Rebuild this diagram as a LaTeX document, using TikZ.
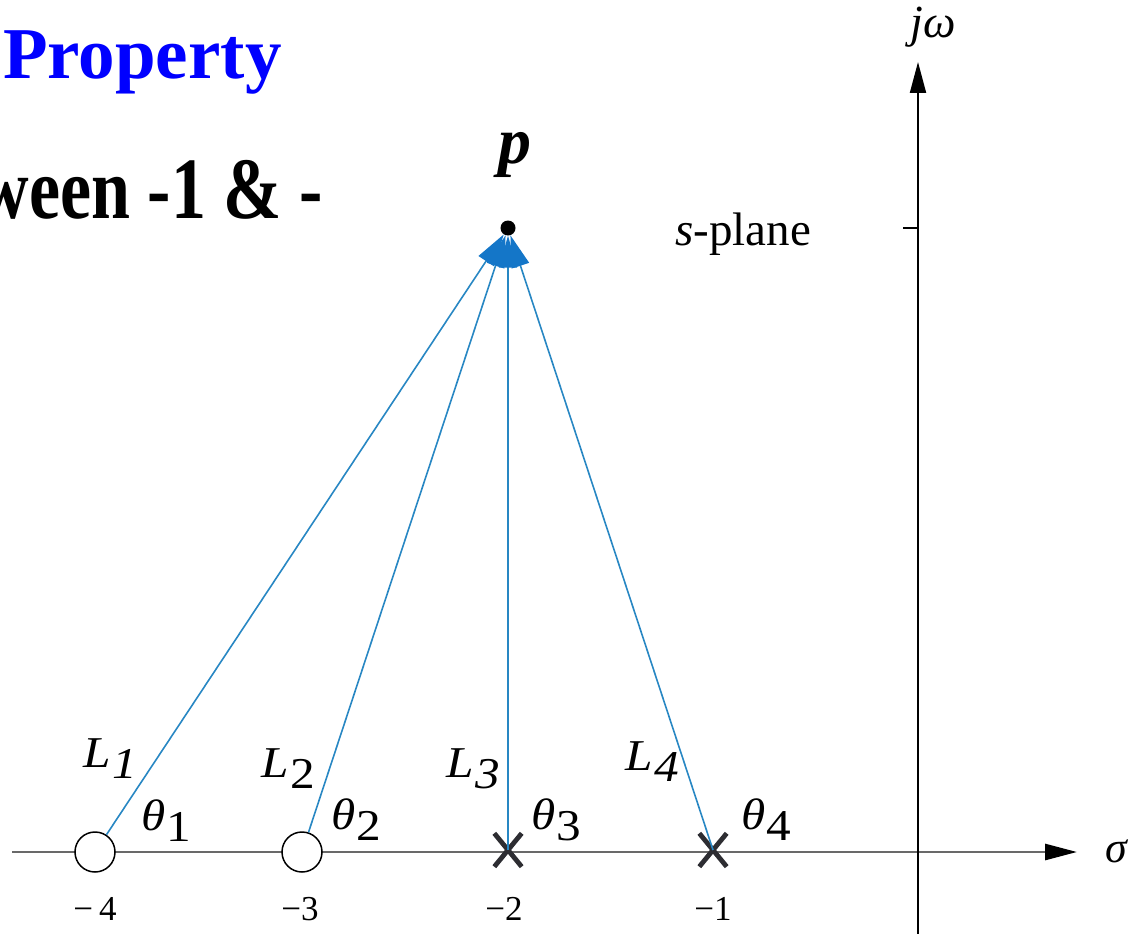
\documentclass[tikz,border=0pt]{standalone}
\usepackage{fontspec}
\setmainfont{Liberation Serif}
\usetikzlibrary{arrows.meta}
\definecolor{lineblue}{RGB}{40,135,195}
\definecolor{headblue}{RGB}{20,118,200}
\definecolor{axisgray}{RGB}{105,105,105}
\definecolor{crossgray}{RGB}{45,45,50}
\newcommand{\lsub}[2]{\scalebox{1.12}[1]{#1\kern0.03em\raisebox{-0.25em}{#2}}}
\begin{document}
\begin{tikzpicture}[x=1pt,y=-1pt,
  lbl/.style={inner sep=0, anchor=base west, font=\fontsize{44}{48}\selectfont},
  tick/.style={inner sep=0, anchor=base, font=\fontsize{35}{38}\selectfont},
  zero/.style={circle, draw=black, line width=1.5pt, fill=white, minimum size=40pt, inner sep=0},
  pole/.style={rectangle, minimum width=27pt, minimum height=33pt, inner sep=0},
  crossline/.style={draw=crossgray, line width=4.8pt},
  ray/.style={draw=lineblue, line width=1.6pt, -{Triangle[length=32pt,width=18pt,color=headblue,fill=headblue]}},
  saxis/.style={draw=axisgray, line width=2.8pt, -{Triangle[length=32pt,width=16pt,color=black,fill=black]}},
  jaxis/.style={draw=black, line width=2pt, -{Triangle[length=31pt,width=16pt,color=black,fill=black]}}]
\useasboundingbox (0,0) rectangle (1141,934);
\clip (0,0) rectangle (1141,934);
% axes
\coordinate (sl) at (12,852);
\coordinate (sr) at (1077,852);
\coordinate (jb) at (918,940);
\coordinate (jt) at (918,62);
\coordinate (tk) at (903,228);
\coordinate (tk0) at (918,228);
\draw[saxis] (sl) -- (sr);
\draw[jaxis] (jb) -- (jt);
\draw[draw=black, line width=1.8pt] (tk) -- (tk0);
% point p
\node[circle, fill=black, minimum size=15pt, inner sep=0] (p) at (508,228) {};
% zeros and poles
\node[zero] (z1) at (95,852) {};
\node[zero] (z2) at (302,852) {};
\node[pole] (x1) at (508,850) {};
\node[pole] (x2) at (713,850) {};
\draw[crossline] (x1.north west) -- (x1.south east) (x1.north east) -- (x1.south west);
\draw[crossline] (x2.north west) -- (x2.south east) (x2.north east) -- (x2.south west);
% rays
\draw[ray] (z1) -- (p);
\draw[ray] (z2) -- (p);
\draw[ray] (x1.center) -- (p);
\draw[ray] (x2.center) -- (p);
% labels
\node[lbl] (l1) at (83,767) {\lsub{\textit{L}}{\textit{1}}};
\node[lbl] (l2) at (261,777) {\lsub{\textit{L}}{2}};
\node[lbl] (l3) at (446,777) {\lsub{\textit{L}}{\textit{3}}};
\node[lbl] (l4) at (625,770) {\lsub{\textit{L}}{\textit{4}}};
\node[lbl] (t1) at (141,830) {\lsub{\textit{θ}}{1}};
\node[lbl] (t2) at (331,829) {\lsub{\textit{θ}}{2}};
\node[lbl] (t3) at (531,829) {\lsub{\textit{θ}}{3}};
\node[lbl] (t4) at (741,829) {\lsub{\textit{θ}}{4}};
\node[tick] (n4) at (95,920) {−\,4};
\node[tick] (n3) at (300,920) {−3};
\node[tick] (n2) at (504,920) {−2};
\node[tick] (n1) at (713,920) {−1};
\node[inner sep=0, anchor=base, font=\fontsize{44}{48}\selectfont] (sig) at (1117,862) {\textit{σ}};
\node[inner sep=0, anchor=base, font=\fontsize{46}{50}\selectfont] (jw) at (933,38) {\textit{jω}};
\node[inner sep=0, anchor=base west, font=\fontsize{47}{52}\selectfont] (sp) at (675,245) {\textit{s}-plane};
\node[inner sep=0, anchor=base, font=\fontsize{66}{70}\selectfont\bfseries\itshape] (plab) at (515,163) {p};
% title fragments
\node[inner sep=0, anchor=base west, text=blue, font=\fontsize{73}{80}\selectfont\bfseries] (title) at (3,78) {Property};
\node[inner sep=0, anchor=base east, font=\fontsize{70}{75}\selectfont\bfseries] (frag) at (323,218) {\scalebox{1}[1.25]{ween -1 \& -}};
\end{tikzpicture}
\end{document}
